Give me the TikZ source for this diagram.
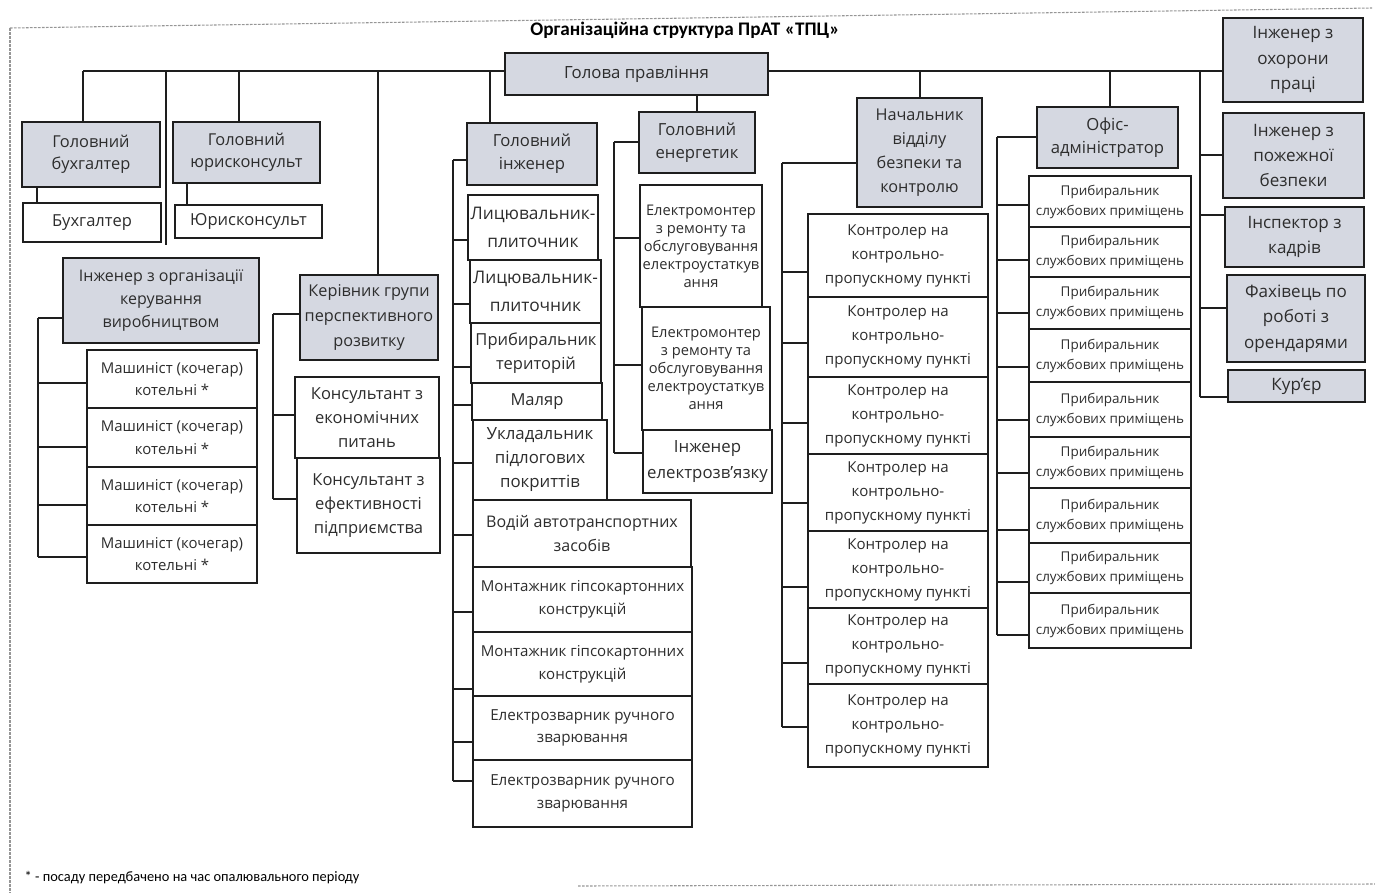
\documentclass[tikz,border=0pt]{standalone}
\usepackage{fontspec}
\setmainfont{Open Sans}
\newfontfamily\calfont{Carlito}
\definecolor{gfill}{RGB}{213,216,225}
\definecolor{ln}{RGB}{30,30,30}
\definecolor{tx}{RGB}{45,45,45}
\definecolor{bordc}{RGB}{150,150,150}
\newcommand\fz[2]{\fontsize{#1}{#2}\selectfont}
\newcommand\B[7]{\node[#6, minimum width={(#4-#2)*0.75pt}, minimum height={(#5-#3)*0.75pt}] (#1) at ({(#2+#4)/2},{(#3+#5)/2}) {#7};}
\tikzset{
  box/.style={draw=ln, line width=1.25pt, inner sep=0pt, align=center, text=tx},
  gbox/.style={box, fill=gfill},
  wbox/.style={box, fill=white},
  con/.style={draw=ln, line width=1.1pt},
  bord/.style={draw=bordc, line width=0.8pt, dash pattern=on 2pt off 1pt},
}
\begin{document}
\begin{tikzpicture}[x=0.75pt,y=-0.75pt]
\useasboundingbox (0,0) rectangle (1375,893);
% page border
\draw[bord] (10,28) -- (1372,8);
\draw[bord] (10,28) -- (10,893);
\draw[bord] (578,886) -- (1375,884);
% title
\node[font=\calfont\bfseries\fz{14.4}{16}, text=black] (title) at (685,30) {Організаційна структура ПрАТ «ТПЦ»};
% top level
\B{golova}{505}{53}{768}{95}{gbox,font=\fz{12.6}{15}}{Голова правління}
\B{gb}{22}{122}{160}{187}{gbox,font=\fz{12.3}{16.5}}{Головний\\бухгалтер}
\B{gyu}{173}{122}{320}{183}{gbox,font=\fz{12.3}{16.5}}{Головний\\юрисконсульт}
\B{bux}{23}{203}{161}{242}{wbox,font=\fz{12.4}{15}}{Бухгалтер}
\B{yu}{175}{205}{322}{238}{wbox,font=\fz{12.4}{15}}{Юрисконсульт}
\B{iok}{63}{258}{259}{343}{gbox,font=\fz{12}{17.5}}{Інженер з організації\\керування\\виробництвом}
\B{m1}{87}{350}{257}{408}{wbox,font=\fz{11.2}{17}}{Машиніст (кочегар)\\котельні *}
\B{m2}{87}{408}{257}{467}{wbox,font=\fz{11.2}{17}}{Машиніст (кочегар)\\котельні *}
\B{m3}{87}{467}{257}{525}{wbox,font=\fz{11.2}{17}}{Машиніст (кочегар)\\котельні *}
\B{m4}{87}{525}{257}{583}{wbox,font=\fz{11.2}{17}}{Машиніст (кочегар)\\котельні *}
\B{kgp}{300}{275}{438}{360}{gbox,font=\fz{12.2}{18.5}}{Керівник групи\\перспективного\\розвитку}
\B{k1}{295}{377}{439}{458}{wbox,font=\fz{12.4}{18}}{Консультант з\\економічних\\питань}
\B{k2}{297}{458}{440}{553}{wbox,font=\fz{12.4}{18}}{Консультант з\\ефективності\\підприємства}
% chief engineer
\B{gi}{467}{123}{597}{185}{gbox,font=\fz{12.5}{17}}{Головний\\інженер}
\B{l1}{468}{195}{598}{260}{wbox,font=\fz{13}{21}}{Лицювальник-\\плиточник}
\B{l2}{470}{260}{601}{323}{wbox,font=\fz{13}{21}}{Лицювальник-\\плиточник}
\B{pt}{471}{323}{601}{383}{wbox,font=\fz{12.4}{17.5}}{Прибиральник\\територій}
\B{ml}{472}{383}{602}{420}{wbox,font=\fz{12.4}{15}}{Маляр}
\B{uk}{473}{420}{607}{500}{wbox,font=\fz{12.6}{18}}{Укладальник\\підлогових\\покриттів}
\B{vd}{473}{500}{691}{567}{wbox,font=\fz{12}{17.5}}{Водій автотранспортних\\засобів}
\B{mg1}{473}{567}{692}{632}{wbox,font=\fz{11.3}{17}}{Монтажник гіпсокартонних\\конструкцій}
\B{mg2}{473}{632}{692}{696}{wbox,font=\fz{11.3}{17}}{Монтажник гіпсокартонних\\конструкцій}
\B{ez1}{473}{696}{692}{760}{wbox,font=\fz{11.4}{17}}{Електрозварник ручного\\зварювання}
\B{ez2}{473}{760}{692}{827}{wbox,font=\fz{11.4}{17}}{Електрозварник ручного\\зварювання}
% chief power engineer
\B{ge}{639}{112}{755}{173}{gbox,font=\fz{12.5}{17}}{Головний\\енергетик}
\B{em1}{640}{185}{762}{307}{wbox,font=\fz{11}{13.5}}{Електромонтер\\з ремонту та\\обслуговування\\електроустаткув\\ання}
\B{em2}{642}{307}{770}{430}{wbox,font=\fz{11}{13.5}}{Електромонтер\\з ремонту та\\обслуговування\\електроустаткув\\ання}
\B{ie}{643}{430}{772}{493}{wbox,font=\fz{12.6}{19}}{Інженер\\електрозв’язку}
% security
\B{nvb}{857}{98}{982}{207}{gbox,font=\fz{12.2}{18}}{Начальник\\відділу\\безпеки та\\контролю}
\foreach \i/\a/\b in {1/214/297,2/297/377,3/377/454,4/454/531,5/531/608,6/608/684,7/684/767}{
  \B{kp\i}{808}{\a}{988}{\b}{wbox,font=\fz{11.3}{18}}{Контролер на\\контрольно-\\пропускному пункті}
}
% office
\B{ofis}{1037}{107}{1178}{168}{gbox,font=\fz{12.5}{17}}{Офіс-\\адміністратор}
\foreach \i/\a/\b in {1/176/227,2/227/277,3/277/329,4/329/382,5/382/437,6/437/488,7/488/543,8/543/593,9/593/648}{
  \B{pr\i}{1029}{\a}{1191}{\b}{wbox,font=\fz{10.1}{15}}{Прибиральник\\службових приміщень}
}
% right column
\B{iop}{1223}{18}{1363}{102}{gbox,font=\fz{12.8}{19}}{Інженер з\\охорони\\праці}
\B{ipb}{1223}{113}{1364}{198}{gbox,font=\fz{12.8}{19}}{Інженер з\\пожежної\\безпеки}
\B{ik}{1225}{207}{1364}{267}{gbox,font=\fz{12.8}{19}}{Інспектор з\\кадрів}
\B{fr}{1227}{275}{1365}{362}{gbox,font=\fz{12.8}{19}}{Фахівець по\\роботі з\\орендарями}
\B{kur}{1228}{370}{1365}{402}{gbox,font=\fz{12.8}{15}}{Кур’єр}
% footnote
\node[anchor=west, font=\calfont\fz{10.8}{12}, text=black] (fn) at (20,878) {* - посаду передбачено на час опалювального періоду};

% ---------- connectors ----------
\coordinate (mL) at (83,71);
\draw[con] (mL) -- (golova.west |- mL);
\draw[con] (golova.east |- mL) -- (iop.west |- mL);
\draw[con] (mL) -- (mL |- gb.north);
\coordinate (d2) at (166,71); \coordinate (d2e) at (166,245);
\draw[con] (d2) -- (d2e);
\coordinate (d3) at (239,71); \draw[con] (d3) -- (d3 |- gyu.north);
\coordinate (d4) at (378,71); \draw[con] (d4) -- (d4 |- kgp.north);
\coordinate (d5) at (490,71); \draw[con] (d5) -- (d5 |- gi.north);
\draw[con] (golova.south -| ge.north) -- (ge.north);
\coordinate (d7) at (920,71); \draw[con] (d7) -- (d7 |- nvb.north);
\coordinate (d8) at (1110,71); \draw[con] (d8) -- (d8 |- ofis.north);
\coordinate (d9) at (1200,71); \coordinate (d9e) at (1200,397);
\draw[con] (d9) -- (d9e);
\foreach \y/\n in {155/ipb,215/ik,308/fr,397/kur}{
  \coordinate (t) at (1200,\y); \draw[con] (t) -- (t -| \n.west);
}
% accountant / lawyer
\coordinate (c1) at (37,0); \draw[con] (c1 |- gb.south) -- (c1 |- bux.north);
\coordinate (c2) at (187,0); \draw[con] (c2 |- gyu.south) -- (c2 |- yu.north);
% bracket: engineer of production
\coordinate (bT) at (38,318); \coordinate (bB) at (38,557);
\draw[con] (bT) -- (bB); \draw[con] (bT) -- (bT -| iok.west);
\foreach \y/\n in {383/m1,447/m2,505/m3,557/m4}{
  \coordinate (t) at (38,\y); \draw[con] (t) -- (t -| \n.west);
}
% bracket: prospective development
\coordinate (kT) at (273,314); \coordinate (kB) at (273,499);
\draw[con] (kT) -- (kB); \draw[con] (kT) -- (kT -| kgp.west);
\foreach \y/\n in {415/k1,499/k2}{
  \coordinate (t) at (273,\y); \draw[con] (t) -- (t -| \n.west);
}
% bracket: chief engineer
\coordinate (gT) at (453,160); \coordinate (gB) at (453,781);
\draw[con] (gT) -- (gB); \draw[con] (gT) -- (gT -| gi.west);
\foreach \y/\n in {240/l1,304/l2,367/pt,405/ml,463/uk,535/vd,612/mg1,689/mg2,742/ez1,781/ez2}{
  \coordinate (t) at (453,\y); \draw[con] (t) -- (t -| \n.west);
}
% bracket: chief power engineer
\coordinate (eT) at (614,142); \coordinate (eB) at (614,453);
\draw[con] (eT) -- (eB); \draw[con] (eT) -- (eT -| ge.west);
\foreach \y/\n in {238/em1,365/em2,453/ie}{
  \coordinate (t) at (614,\y); \draw[con] (t) -- (t -| \n.west);
}
% bracket: security
\coordinate (sT) at (782,163); \coordinate (sB) at (782,727);
\draw[con] (sT) -- (sB); \draw[con] (sT) -- (sT -| nvb.west);
\foreach \y/\n in {272/kp1,343/kp2,423/kp3,503/kp4,587/kp5,663/kp6,727/kp7}{
  \coordinate (t) at (782,\y); \draw[con] (t) -- (t -| \n.west);
}
% bracket: office
\coordinate (oT) at (997,137); \coordinate (oB) at (997,635);
\draw[con] (oT) -- (oB); \draw[con] (oT) -- (oT -| ofis.west);
\foreach \y/\n in {205/pr1,260/pr2,313/pr3,367/pr4,420/pr5,473/pr6,530/pr7,582/pr8,635/pr9}{
  \coordinate (t) at (997,\y); \draw[con] (t) -- (t -| \n.west);
}
\end{tikzpicture}
\end{document}
